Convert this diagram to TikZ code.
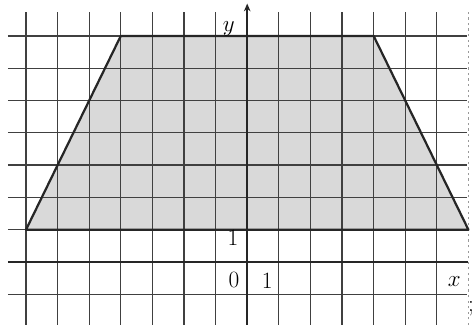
\documentclass[tikz,border=0pt]{standalone}
\usetikzlibrary{arrows.meta}
\begin{document}
\begin{tikzpicture}[x=1cm,y=1.0222cm,
  gridline/.style={line width=1.1pt,draw=black!75},
  axisline/.style={line width=1.8pt,draw=black!85},
  edge/.style={line width=2pt,draw=black!85,line join=round},
  lbl/.style={font=\fontsize{21}{23}\selectfont,inner sep=0pt}]
\useasboundingbox (-7.823,-1.950) rectangle (7.240,8.111);
% shaded trapezoid
\coordinate (A) at (-7,1);
\coordinate (B) at (-4,7);
\coordinate (C) at (4,7);
\coordinate (D) at (7,1);
\fill[black!15] (A) -- (B) -- (C) -- (D) -- cycle;
% grid
\foreach \i in {-7,...,6}{\draw[gridline] (\i,-1.95) -- (\i,7.75);}
\draw[gridline,black!40,dash pattern=on 2pt off 3pt] (7,-1.95) -- (7,7.75);
\foreach \j in {-1,1,2,...,7}{\draw[gridline] (-7.57,\j) -- (6.95,\j);}
% axes
\coordinate (xs) at (-7.57,0);
\coordinate (xe) at (6.98,0);
\coordinate (ys) at (0,-1.95);
\coordinate (ye) at (0,8.0);
\draw[axisline] (xs) -- (xe);
\draw[axisline,-{Stealth[length=7pt,width=6pt]}] (ys) -- (ye);
% trapezoid edges
\draw[edge] (A) -- (B) -- (C) -- (D) -- cycle;
% labels
\node[lbl] (ly) at (-0.58,7.22) {$y$};
\node[lbl] (l1y) at (-0.45,0.74) {1};
\node[lbl] (l0) at (-0.42,-0.55) {0};
\node[lbl] (l1x) at (0.63,-0.57) {1};
\node[lbl] (lx) at (6.55,-0.62) {$x$};
\node[lbl] (semi) at (7.08,-1.45) {;};
\end{tikzpicture}
\end{document}
